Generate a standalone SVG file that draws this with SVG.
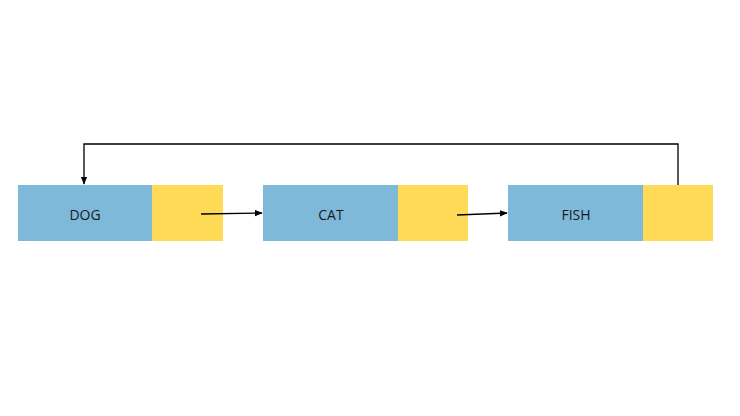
<svg xmlns="http://www.w3.org/2000/svg" width="740" height="416" viewBox="0 0 740 416">
<style>
.b{fill:#7fb9da}.y{fill:#ffda56}
text{font-family:"Open Sans","Noto Sans",sans-serif;font-size:14px;fill:#1a1a1a;text-anchor:middle;dominant-baseline:central}
.c{stroke:#000;stroke-width:1.3;fill:none;marker-end:url(#a)}
</style>
<defs><marker id="a" viewBox="0 0 10 10" refX="9" refY="5" markerWidth="6" markerHeight="6" orient="auto"><path d="M0,1 L10,5 L0,9 z" fill="#000"/></marker></defs>
<rect width="740" height="416" fill="#fff"/>
<g id="dog"><rect class="b" x="18" y="185" width="134" height="56"/><rect class="y" x="152" y="185" width="71" height="56"/><text x="85" y="214">DOG</text></g>
<g id="cat"><rect class="b" x="263" y="185" width="135" height="56"/><rect class="y" x="398" y="185" width="70" height="56"/><text x="331" y="214">CAT</text></g>
<g id="fish"><rect class="b" x="508" y="185" width="135" height="56"/><rect class="y" x="643" y="185" width="70" height="56"/><text x="576" y="214">FISH</text></g>
<g id="connectors">
<path class="c" d="M201,214 L262,213"/>
<path class="c" d="M457,215 L507,213"/>
<path class="c" d="M678,185 V144 H84 V184"/>
</g>
</svg>
